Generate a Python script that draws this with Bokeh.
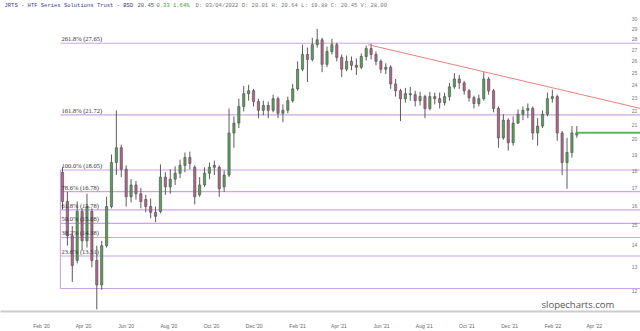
import pandas as pd
from bokeh.plotting import figure
from bokeh.models import Range1d, FixedTicker, Label, ColumnDataSource, DatetimeTickFormatter
from bokeh.embed import file_html
from bokeh.resources import INLINE

# ---------------- data (weekly candles) ----------------
first_week = "2020-03-02"
opens = [17.91, 16.23, 14.46, 13.31, 15.70, 14.22, 15.70, 13.31, 12.26, 13.99,
         15.96, 18.51, 19.45, 18.09, 16.49, 17.16, 16.66, 16.34, 15.96, 15.65,
         15.70, 17.62, 17.05, 17.50, 17.85, 18.33, 18.82, 18.21, 16.60, 17.16,
         17.85, 18.21, 18.21, 17.05, 17.74, 20.44, 21.13, 22.35, 23.33, 23.56,
         22.72, 22.06, 22.42, 22.06, 22.94, 21.84, 22.06, 22.79, 23.71, 25.33,
         26.62, 26.18, 27.51, 27.97, 25.75, 26.88, 27.51, 26.36, 25.33, 26.01,
         25.67, 25.50, 26.44, 27.15, 26.62, 26.01, 25.33, 25.50, 24.11, 23.56,
         22.94, 23.33, 23.25, 22.79, 23.10, 22.20, 23.10, 22.94, 22.64, 23.10,
         23.87, 24.51, 24.19, 23.56, 23.02, 22.57, 22.94, 24.51, 23.56, 22.20,
         20.11, 21.34, 19.78, 21.13, 21.77, 22.06, 22.20, 20.44, 20.92, 21.77,
         22.94, 23.10, 20.44, 18.51, 19.14, 20.30]
highs = [18.21, 16.77, 14.94, 16.23, 15.86, 16.66, 15.86, 13.99, 14.22, 16.49,
         19.01, 22.06, 19.65, 18.33, 17.50, 17.39, 16.99, 16.60, 16.39, 15.96,
         18.39, 17.91, 18.09, 18.27, 18.69, 19.14, 19.20, 18.33, 17.62, 18.21,
         18.51, 18.63, 18.33, 18.03, 22.20, 21.62, 22.94, 23.95, 24.03, 23.71,
         22.94, 22.79, 22.72, 23.25, 23.10, 22.50, 23.10, 24.11, 26.01, 27.51,
         27.24, 28.16, 29.00, 28.16, 27.33, 28.06, 27.70, 26.62, 26.53, 26.44,
         26.27, 26.71, 27.42, 27.60, 26.88, 26.18, 25.84, 25.67, 24.51, 23.71,
         23.79, 23.87, 23.56, 23.48, 23.25, 23.48, 23.41, 23.41, 23.41, 24.19,
         25.00, 24.84, 24.35, 23.71, 23.17, 23.25, 25.08, 24.67, 23.71, 22.35,
         21.77, 21.48, 21.62, 22.13, 22.35, 22.57, 22.35, 21.48, 22.06, 23.41,
         23.64, 23.25, 20.58, 20.11, 20.92, 20.92]
lows = [15.80, 13.99, 12.38, 13.18, 13.76, 13.90, 13.01, 11.29, 12.06, 13.90,
        15.86, 17.74, 17.62, 15.96, 16.18, 16.34, 15.86, 15.65, 15.34, 15.14,
        15.60, 16.60, 16.66, 17.16, 17.56, 17.91, 18.09, 16.07, 16.49, 17.05,
        17.50, 17.74, 16.49, 16.77, 17.62, 19.45, 20.78, 21.98, 22.79, 22.35,
        21.48, 21.70, 21.48, 21.91, 21.48, 21.20, 21.84, 22.64, 23.56, 25.16,
        24.27, 26.01, 27.24, 25.08, 25.50, 26.62, 26.01, 24.67, 25.16, 25.25,
        24.84, 25.33, 26.09, 26.18, 25.67, 25.00, 24.92, 23.71, 23.10, 21.27,
        22.64, 22.79, 22.35, 22.42, 21.48, 22.06, 22.50, 22.20, 22.42, 22.79,
        23.71, 23.71, 23.25, 22.72, 22.20, 22.35, 22.79, 23.25, 21.91, 19.45,
        19.98, 19.26, 19.58, 21.06, 21.34, 21.48, 19.98, 19.58, 20.78, 21.62,
        22.64, 19.91, 17.74, 16.94, 18.82, 20.11]
closes = [16.23, 14.46, 13.09, 15.70, 14.22, 15.96, 13.31, 12.26, 13.99, 15.96,
          18.51, 19.45, 18.09, 16.49, 17.16, 16.66, 16.23, 15.96, 15.65, 15.44,
          17.62, 17.05, 17.50, 17.85, 18.33, 18.82, 18.45, 16.49, 17.16, 17.85,
          18.21, 18.33, 16.94, 17.74, 20.44, 21.13, 22.35, 23.33, 23.56, 22.72,
          22.06, 22.42, 22.06, 22.94, 21.84, 22.06, 22.79, 23.71, 25.33, 26.62,
          26.18, 27.51, 27.97, 25.75, 26.88, 27.51, 26.36, 25.33, 26.01, 25.67,
          25.50, 26.44, 27.15, 26.62, 26.01, 25.33, 25.50, 24.11, 23.56, 22.94,
          23.33, 23.25, 22.79, 23.10, 22.20, 23.10, 22.94, 22.64, 23.10, 23.87,
          24.51, 24.19, 23.56, 23.02, 22.57, 22.94, 24.51, 23.56, 22.20, 20.11,
          21.34, 19.78, 21.13, 21.77, 22.06, 22.20, 20.44, 20.92, 21.77, 22.94,
          23.10, 20.44, 18.51, 19.14, 20.44, 20.45]

fib_names = ["261.8%", "161.8%", "100.0%", "78.6%", "61.8%", "50.0%", "38.2%", "23.6%", "0.0%"]
fib_values = [27.65, 21.72, 18.05, 16.78, 15.78, 15.08, 14.38, 13.51, 12.11]
fib_start = "2020-02-28"

trend_dates = ["2021-05-13", "2022-06-06"]
trend_values = [27.51, 22.20]

last_close = 20.45
last_date = "2022-03-07"

price_ticks = [12, 13, 14, 15, 16, 17, 18, 19, 20, 21, 22, 23, 24, 25, 26, 27, 28, 29, 30]
month_ticks = ["2020-02-01", "2020-04-01", "2020-06-01", "2020-08-01", "2020-10-01",
               "2020-12-01", "2021-02-01", "2021-04-01", "2021-06-01", "2021-08-01",
               "2021-10-01", "2021-12-01", "2022-02-01", "2022-04-01"]

header_title = "JRTS - HTF Series Solutions Trust - BSD"
header_price = "20.45"
header_change = "0.33 1.64%"
header_rest = "D: 03/04/2022 O: 20.01 H: 20.64 L: 19.88 C: 20.45 V: 28.00"
watermark = "slopecharts.com"

# ---------------- figure ----------------
x_start = pd.Timestamp("2019-12-04 10:00")
x_end = pd.Timestamp("2022-06-06 00:00")

p = figure(width=640, height=331, x_axis_type="datetime", y_axis_type="log",
           x_range=Range1d(x_start, x_end), y_range=Range1d(11.21, 31.92),
           output_backend="svg", toolbar_location=None, y_axis_location=None,
           min_border_left=0, min_border_right=0, min_border_top=0, min_border_bottom=14)
p.outline_line_color = None
p.grid.visible = False
p.background_fill_color = "white"
p.border_fill_color = "white"

FIB_COLOR = "#cfa3e6"
fib_end = x_end
for v in fib_values:
    p.line([pd.Timestamp(fib_start), fib_end], [v, v], line_color=FIB_COLOR, line_width=1.1)
p.line([pd.Timestamp(fib_start)] * 2, [fib_values[2], fib_values[-1]],
       line_color=FIB_COLOR, line_width=1.1)

for name, v in zip(fib_names[:-1], fib_values[:-1]):
    p.add_layout(Label(x=61, y=v, x_units="screen", y_units="data",
                       text=f"{name} ({v:.2f})", text_font="Liberation Serif",
                       text_font_size="6.5px", text_color="#333333",
                       text_baseline="bottom", y_offset=1))

# candles
dates = pd.date_range(first_week, periods=len(opens), freq="7D")
up = [c >= o for o, c in zip(opens, closes)]
src = ColumnDataSource(dict(
    date=dates, open=opens, high=highs, low=lows, close=closes,
    top=[max(o, c) for o, c in zip(opens, closes)],
    bottom=[min(o, c) for o, c in zip(opens, closes)],
    fill=["#5aa05a" if u else "#b8648a" for u in up],
))
p.segment(x0="date", y0="high", x1="date", y1="low", source=src,
          line_color="#4a4a4a", line_width=0.9)
p.vbar(x="date", top="top", bottom="bottom", width=3.2 * 24 * 3600 * 1000, source=src,
       fill_color="fill", line_color="#4a4a4a", line_width=0.6)

# trend line and last close line
p.line([pd.Timestamp(d) for d in trend_dates], trend_values, line_color="#e8827c", line_width=1)
p.line([pd.Timestamp(last_date), x_end], [last_close, last_close],
       line_color="#5cb85c", line_width=2)

# right price labels (inside frame)
for t in price_ticks:
    p.add_layout(Label(x=634, y=t, x_units="screen", y_units="data", text=str(t),
                       text_font="Liberation Sans", text_font_size="5px",
                       text_color="#777777", text_align="center", text_baseline="middle"))

# header
hdr_y = 31.40
for x, txt, col in [(4, header_title, "#3a3a90"), (137, header_price, "#555555"),
                    (156, header_change, "#3a9a3a"), (195, header_rest, "#777777")]:
    p.add_layout(Label(x=x, y=hdr_y, x_units="screen", y_units="data", text=txt,
                       text_font="Liberation Mono", text_font_size="5.5px",
                       text_color=col, text_baseline="middle"))

# watermark
p.add_layout(Label(x=541, y=11.47, x_units="screen", y_units="data", text=watermark,
                   text_font="Open Sans", text_font_size="9.5px", text_color="#555555",
                   text_baseline="middle"))

# x axis
xa = p.xaxis[0]
xa.ticker = FixedTicker(ticks=[pd.Timestamp(d).value // 10**6 for d in month_ticks])
fmt = "%b '%y"
xa.formatter = DatetimeTickFormatter(milliseconds=fmt, seconds=fmt, minsec=fmt, minutes=fmt,
                                     hourmin=fmt, hours=fmt, days=fmt, months=fmt, years=fmt)
xa.axis_line_color = "#cccccc"
xa.axis_line_width = 2
xa.major_tick_line_color = None
xa.minor_tick_line_color = None
xa.major_label_text_font_size = "5px"
xa.major_label_text_color = "#666666"
xa.major_label_standoff = 5

open("out.html", "w").write(file_html(p, INLINE))
